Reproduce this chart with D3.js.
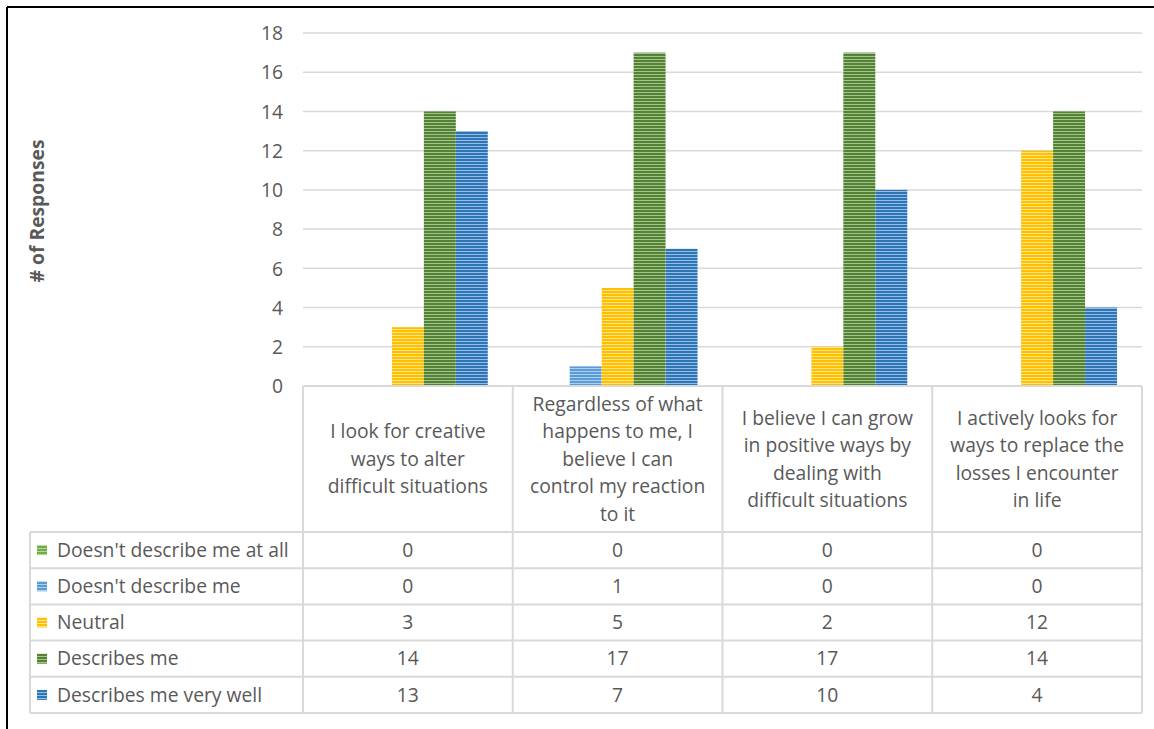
<!DOCTYPE html>
<html><head><meta charset="utf-8">
<script src="https://cdn.jsdelivr.net/npm/d3@7"></script>
<style>body{margin:0;background:#fff;} svg{display:block;}</style>
</head><body>
<script>
const categories = [
  ["I look for creative","ways to alter","difficult situations"],
  ["Regardless of what","happens to me, I","believe I can","control my reaction","to it"],
  ["I believe I can grow","in positive ways by","dealing with","difficult situations"],
  ["I actively looks for","ways to replace the","losses I encounter","in life"]
];
const seriesNames = ["Doesn't describe me at all","Doesn't describe me","Neutral","Describes me","Describes me very well"];
const doesntAtAll = [0,0,0,0];
const doesnt = [0,1,0,0];
const neutral = [3,5,2,12];
const describes = [14,17,17,14];
const veryWell = [13,7,10,4];
const yTicks = [0,2,4,6,8,10,12,14,16,18];
const seriesValues = [doesntAtAll, doesnt, neutral, describes, veryWell];
const colors = [["#70ad47","#b5d69c"],["#5b9bd5","#acd0f0"],["#ffc000","#ffe38a"],["#548235","#a3c48a"],["#2e75b6","#95bde6"]];

(function(){
const W=1154,H=729;
const svg=d3.select("body").append("svg").attr("width",W).attr("height",H);
const defs=svg.append("defs");
colors.forEach((c,i)=>{
  const p=defs.append("pattern").attr("id","pat"+i).attr("patternUnits","userSpaceOnUse").attr("width",4).attr("height",3);
  p.append("rect").attr("width",4).attr("height",3).attr("fill",c[0]);
  p.append("rect").attr("y",2).attr("width",4).attr("height",1).attr("fill",c[1]);
});
svg.append("line").attr("x1",7).attr("x2",W).attr("y1",7).attr("y2",7).attr("stroke","#000").attr("stroke-width",2);
svg.append("line").attr("x1",7).attr("x2",7).attr("y1",7).attr("y2",H).attr("stroke","#000").attr("stroke-width",2);

const pLeft=303,pRight=1142,pTop=33,pBottom=386;
const font="'Open Sans', Lato, sans-serif";
const fs=19.3;
const txtCol="#595959";
const x=d3.scaleBand().domain(d3.range(categories.length)).range([pLeft,pRight]);
const groupPad = 25/210;
const xs=d3.scaleBand().domain(d3.range(seriesNames.length))
  .range([x.bandwidth()*groupPad, x.bandwidth()*(1-groupPad)]);
const y=d3.scaleLinear().domain([0,18]).range([pBottom,pTop]);

svg.append("g").selectAll("line").data(yTicks.slice(1)).join("line")
  .attr("x1",pLeft).attr("x2",pRight).attr("y1",d=>y(d)).attr("y2",d=>y(d))
  .attr("stroke","#d9d9d9").attr("stroke-width",1.5);
const yAxis=d3.axisLeft(y).tickValues(yTicks).tickSize(0).tickPadding(0);
const ga=svg.append("g").attr("transform",`translate(283,0)`).call(yAxis);
ga.select(".domain").remove();
ga.selectAll("text").attr("font-family",font).attr("font-size",fs).attr("fill",txtCol).attr("dy","0.35em");

seriesValues.forEach((vals,si)=>{
  svg.append("g").selectAll("rect").data(vals).join("rect")
    .attr("x",(d,ci)=>x(ci)+xs(si)).attr("width",xs.bandwidth())
    .attr("y",d=>y(d)).attr("height",d=>pBottom-y(d))
    .attr("fill",`url(#pat${si})`);
});

svg.append("text").attr("transform",`translate(44,211) rotate(-90)`).attr("text-anchor","middle")
  .attr("font-family",font).attr("font-size",fs).attr("font-weight","bold").attr("fill",txtCol).text("# of Responses");

const tLeft=30, headerBottom=532, rowH=36.2;
const gridC="#d9d9d9", gw=2;
const tg=svg.append("g");
tg.append("line").attr("x1",pLeft).attr("x2",pRight).attr("y1",pBottom).attr("y2",pBottom).attr("stroke",gridC).attr("stroke-width",gw);
d3.range(categories.length+1).forEach(i=>{
  const xx = i<categories.length ? x(i) : pRight;
  tg.append("line").attr("x1",xx).attr("x2",xx).attr("y1",pBottom).attr("y2",headerBottom+rowH*5).attr("stroke",gridC).attr("stroke-width",gw);
});
tg.append("line").attr("x1",tLeft).attr("x2",tLeft).attr("y1",headerBottom).attr("y2",headerBottom+rowH*5).attr("stroke",gridC).attr("stroke-width",gw);
d3.range(6).forEach(r=>{
  const yy=headerBottom+r*rowH;
  tg.append("line").attr("x1",tLeft).attr("x2",pRight).attr("y1",yy).attr("y2",yy).attr("stroke",gridC).attr("stroke-width",gw);
});
categories.forEach((lines,ci)=>{
  const cx=x(ci)+x.bandwidth()/2, cy=(pBottom+headerBottom)/2, lh=27.5;
  const t=tg.append("text").attr("text-anchor","middle").attr("font-family",font).attr("font-size",fs).attr("fill",txtCol);
  lines.forEach((l,li)=>{
    t.append("tspan").attr("x",cx).attr("y",cy+(li-(lines.length-1)/2)*lh).attr("dy","0.35em").text(l);
  });
});
seriesNames.forEach((name,si)=>{
  const cy=headerBottom+si*rowH+rowH/2;
  tg.append("rect").attr("x",37).attr("y",cy-5).attr("width",10).attr("height",10).attr("fill",`url(#pat${si})`);
  tg.append("text").attr("x",57).attr("y",cy).attr("dy","0.35em").attr("font-family",font).attr("font-size",fs).attr("fill",txtCol).text(name);
  seriesValues[si].forEach((v,ci)=>{
    tg.append("text").attr("x",x(ci)+x.bandwidth()/2).attr("y",cy).attr("dy","0.35em").attr("text-anchor","middle")
      .attr("font-family",font).attr("font-size",fs).attr("fill",txtCol).text(v);
  });
});
})();
</script>
</body></html>
